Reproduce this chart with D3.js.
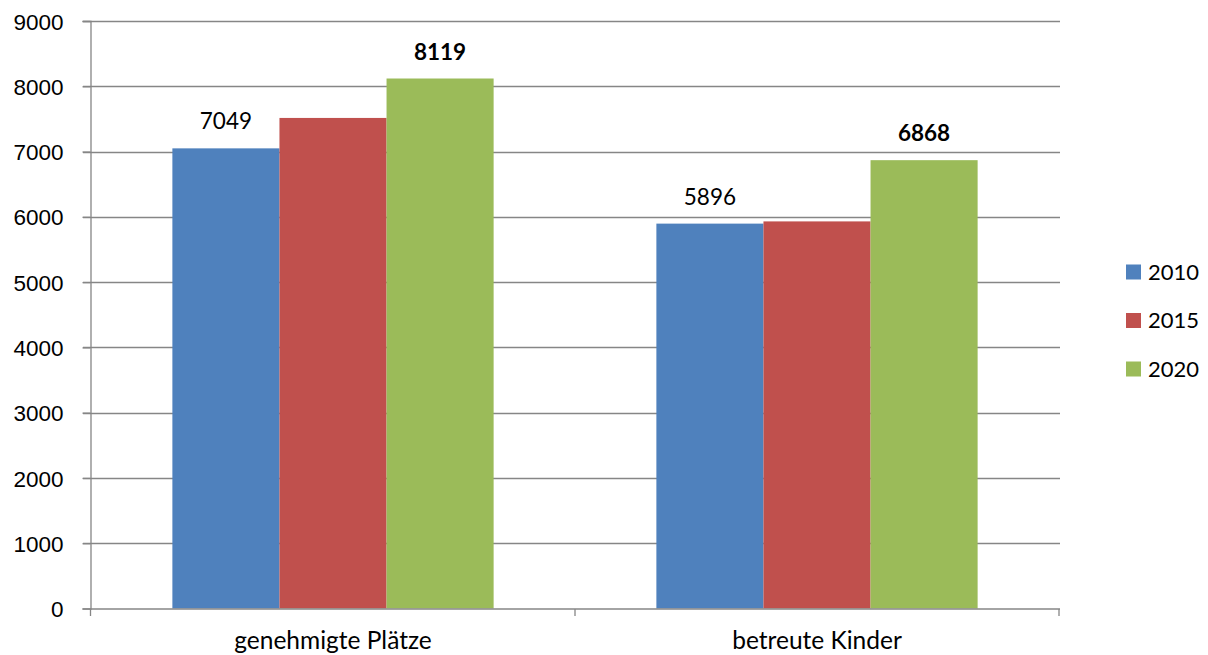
<!DOCTYPE html>
<html>
<head>
<meta charset="utf-8">
<script src="https://cdn.jsdelivr.net/npm/d3@7"></script>
<style>
  body { margin: 0; background: #fff; }
  svg { display: block; font-family: Lato, "Open Sans", sans-serif; }
</style>
</head>
<body>
<div id="chart"></div>
<script>
var categories = ["genehmigte Plätze", "betreute Kinder"];
var years = ["2010", "2015", "2020"];
var values2010 = [7049, 5896];
var values2015 = [7515, 5930];
var values2020 = [8119, 6868];
var yTicks = [0, 1000, 2000, 3000, 4000, 5000, 6000, 7000, 8000, 9000];
// which bars carry a label, and bold or not
var labelShown = { "2010": "normal", "2020": "bold" };

var colors = { "2010": "#4F81BD", "2015": "#C0504D", "2020": "#9BBB59" };
var seriesValues = { "2010": values2010, "2015": values2015, "2020": values2020 };

var width = 1208, height = 655;
var plotLeft = 91, plotRight = 1059, plotTop = 21, plotBottom = 608.5;

var svg = d3.select("#chart").append("svg")
    .attr("width", width)
    .attr("height", height);

var y = d3.scaleLinear().domain([0, 9000]).range([plotBottom, plotTop]);
var x0 = d3.scaleBand().domain(categories).range([plotLeft, plotRight]).padding(0);
var x1 = d3.scaleBand().domain(years).range([0, x0.bandwidth()])
    .paddingInner(0).paddingOuter(0.76);

// gridlines
svg.append("g").selectAll("line").data(yTicks.filter(function (d) { return d > 0; }))
  .enter().append("line")
    .attr("x1", plotLeft - 8).attr("x2", plotRight + 1)
    .attr("y1", function (d) { return Math.round(y(d)) + 0.5; })
    .attr("y2", function (d) { return Math.round(y(d)) + 0.5; })
    .style("stroke", "#868686").style("stroke-width", 1.3);

// y axis
var yAxis = svg.append("g")
    .attr("transform", "translate(" + (plotLeft - 0.5) + ",0)")
    .call(d3.axisLeft(y).tickValues(yTicks).tickSize(8).tickPadding(19).tickFormat(d3.format("d")));
yAxis.select(".domain").attr("stroke", "#868686").attr("stroke-width", 1.3);
yAxis.selectAll(".tick line").attr("stroke", "#868686").attr("stroke-width", 1.3);
yAxis.selectAll("text").style("font-size", "22.5px").style("fill", "#000")
    .attr("dy", "0.36em");

// bars
var groups = svg.append("g").selectAll("g").data(categories)
  .enter().append("g")
    .attr("transform", function (d) { return "translate(" + x0(d) + ",0)"; });

groups.selectAll("rect")
  .data(function (c, i) { return years.map(function (yr) { return { year: yr, value: seriesValues[yr][i] }; }); })
  .enter().append("rect")
    .attr("x", function (d) { return x1(d.year); })
    .attr("width", x1.bandwidth())
    .attr("y", function (d) { return y(d.value); })
    .attr("height", function (d) { return plotBottom - y(d.value); })
    .style("fill", function (d) { return colors[d.year]; });

groups.selectAll("text.lbl")
  .data(function (c, i) {
    return years.filter(function (yr) { return labelShown[yr]; })
      .map(function (yr) { return { year: yr, value: seriesValues[yr][i] }; });
  })
  .enter().append("text")
    .attr("class", "lbl")
    .attr("x", function (d) { return x1(d.year) + x1.bandwidth() / 2; })
    .attr("y", function (d) { return y(d.value) - 19; })
    .attr("text-anchor", "middle")
    .style("font-size", "22.5px")
    .style("font-weight", function (d) { return labelShown[d.year]; })
    .text(function (d) { return d.value; });

// x axis
var xAxis = svg.append("g")
    .attr("transform", "translate(0," + (plotBottom + 0.5) + ")");
xAxis.append("line")
    .attr("x1", plotLeft - 0.5).attr("x2", plotRight + 1)
    .style("stroke", "#868686").style("stroke-width", 1.3);
xAxis.selectAll("line.tk").data([plotLeft - 0.5].concat(categories.map(function (c) { return x0(c) + x0.bandwidth(); })))
  .enter().append("line")
    .attr("class", "tk")
    .attr("x1", function (d) { return d; }).attr("x2", function (d) { return d; })
    .attr("y1", 0).attr("y2", 7)
    .style("stroke", "#868686").style("stroke-width", 1.3);
xAxis.selectAll("text").data(categories)
  .enter().append("text")
    .attr("x", function (d) { return x0(d) + x0.bandwidth() / 2; })
    .attr("y", 40)
    .attr("text-anchor", "middle")
    .style("font-size", "24.5px")
    .text(function (d) { return d; });

// legend
var legend = svg.append("g").selectAll("g").data(years)
  .enter().append("g")
    .attr("transform", function (d, i) { return "translate(1126," + (272 + i * 48.5) + ")"; });
legend.append("rect")
    .attr("x", 0).attr("y", -7.5).attr("width", 15).attr("height", 15)
    .style("fill", function (d) { return colors[d]; });
legend.append("text")
    .attr("x", 22).attr("y", 0).attr("dy", "0.36em")
    .style("font-size", "22px")
    .text(function (d) { return d; });
</script>
</body>
</html>
